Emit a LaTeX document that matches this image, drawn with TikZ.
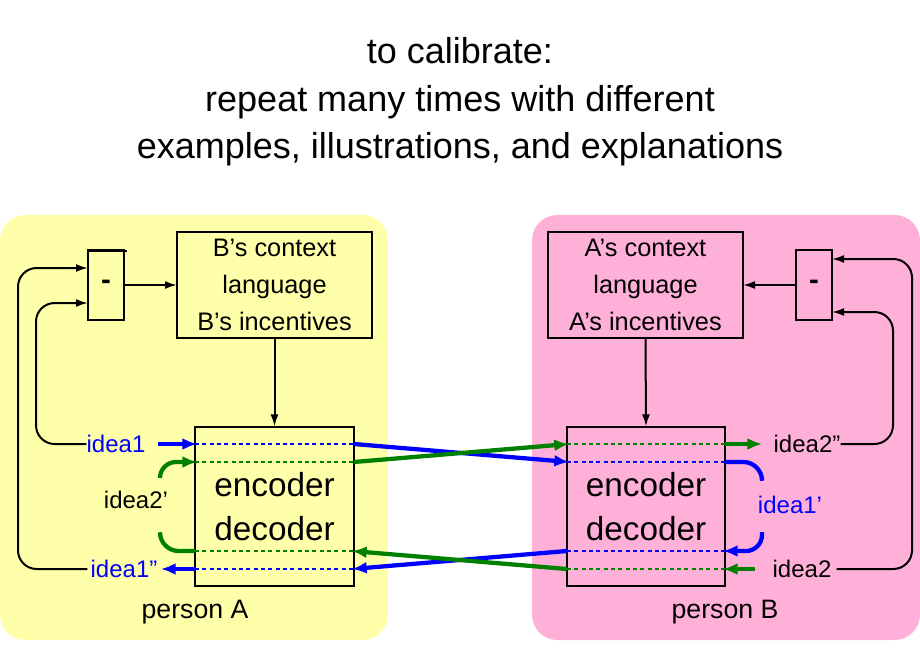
\documentclass[tikz,border=0pt]{standalone}
\usepackage{fontspec}
\setmainfont{Liberation Sans}
\usetikzlibrary{arrows.meta}
\definecolor{yel}{HTML}{FFFFAA}
\definecolor{pnk}{HTML}{FFB0D8}
\definecolor{gr}{HTML}{008000}
\begin{document}
\begin{tikzpicture}[x=0.75pt,y=-0.75pt,
 box/.style={draw,line width=0.8pt,inner sep=0,anchor=north west},
 blk/.style={line width=1.5pt,-{Latex[length=9pt,width=6pt]},rounded corners=14pt},
 thk/.style={line width=3.2pt,-{Latex[length=11pt,width=9pt]}},
 thkn/.style={line width=3.2pt,rounded corners=14pt},
 dot/.style={line width=1.5pt,dash pattern=on 3pt off 2.5pt},
 lbl/.style={font=\fontsize{18}{20}\selectfont,inner sep=0}]
\useasboundingbox (0,0) rectangle (920,660);
\fill[yel,rounded corners=19pt] (0,215) rectangle (388,640);
\fill[pnk,rounded corners=19pt] (532,215) rectangle (920,640);
\node[align=center,font=\fontsize{27}{35.5}\selectfont] (title) at (460,102) {to calibrate:\\repeat many times with different\\examples, illustrations, and explanations};
% left
\node[box,minimum width=36\pgflinewidth] (mA) at (88,250) {};
\draw[line width=0.8pt] (88,250) rectangle (124,320);
\coordinate (mAr) at (124,285);
\node[font=\fontsize{22}{22}\bfseries] at (106,285) {-};
\node[align=center,font=\fontsize{19}{27.5}\selectfont,draw,line width=0.8pt,minimum width=146.25pt,minimum height=79.5pt,inner sep=0] (cA) at (274.5,285) {B's context\\language\\B's incentives};
\node[draw,line width=0.8pt,minimum width=119.25pt,minimum height=119.25pt,inner sep=0,align=center,font=\fontsize{25}{33}\selectfont] (eA) at (274.5,506.5) {encoder\\decoder};
\node[align=center,font=\fontsize{19}{27.5}\selectfont,draw,line width=0.8pt,minimum width=146.25pt,minimum height=79.5pt,inner sep=0] (cB) at (645.5,285) {A's context\\language\\A's incentives};
\node[draw,line width=0.8pt,minimum width=118.5pt,minimum height=119.25pt,inner sep=0,align=center,font=\fontsize{25}{33}\selectfont] (eB) at (646,506.5) {encoder\\decoder};
\draw[line width=0.8pt] (796,250) rectangle (832,320);
\node[font=\fontsize{22}{22}\bfseries] at (814,285) {-};
\node[font=\fontsize{20}{20}\selectfont] (pA) at (195,612) {person A};
\node[font=\fontsize{20}{20}\selectfont] (pB) at (725,612) {person B};
% labels
\node[lbl,text=blue] (i1) at (116,444) {idea1};
\node[lbl,text=blue] (i1b) at (124,569) {idea1"};
\node[lbl] (i2p) at (136,500) {idea2'};
\node[lbl,text=blue] (i1p) at (790,505) {idea1'};
\node[lbl] (i2b) at (807,444) {idea2"};
\node[lbl] (i2) at (802,569) {idea2};
% black
\draw[blk] (124,285) -- (177,285);
\draw[blk] (cA.south) -- (eA.north);
\draw[blk] (796,285) -- (743,285);
\draw[blk] (cB.south) -- (eB.north);
\draw[blk] (i1.west) -- (36,444) -- (36,303) -- (88,303);
\draw[blk] (i1b.west) ++(-3,0) -- (18,569) -- (18,268) -- (88,268);
\draw[blk] (i2b.east) -- (893,444) -- (893,312) -- (832,312);
\draw[blk] (i2.east) ++(5,0) -- (912,569) -- (912,259) -- (832,259);
% dotted
\draw[dot,blue] (195,444) -- (354,444);
\draw[dot,gr] (195,462) -- (354,462);
\draw[dot,gr] (195,551) -- (354,551);
\draw[dot,blue] (195,569) -- (354,569);
\draw[dot,gr] (567,444) -- (725,444);
\draw[dot,blue] (567,462) -- (725,462);
\draw[dot,blue] (567,551) -- (725,551);
\draw[dot,gr] (567,569) -- (725,569);
% blue thick
\draw[thk,blue] (158,444) -- (197,444);
\draw[thk,blue] (354,444) -- (569,462);
\draw[thkn,blue] (725,462) -- (762,462) -- (762,478);
\draw[thk,blue,rounded corners=12pt] (762,532) -- (762,551) -- (723,551);
\draw[thk,blue] (567,551) -- (352,569);
\draw[thk,blue] (195,569) -- (161,569);
% green thick
\draw[thk,gr] (755,569) -- (723,569);
\draw[thk,gr] (567,569) -- (352,551);
\draw[thkn,gr] (195,551) -- (160,551) -- (160,533);
\draw[thk,gr,rounded corners=12pt] (160,478) -- (160,462) -- (197,462);
\draw[thk,gr] (354,462) -- (569,444);
\draw[thk,gr] (725,444) -- (762,444);
\end{tikzpicture}
\end{document}
